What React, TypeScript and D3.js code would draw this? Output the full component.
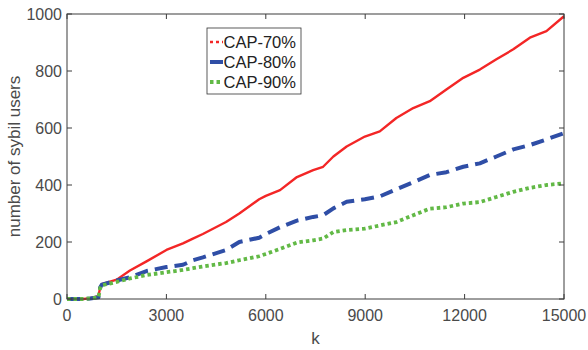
import * as d3 from 'd3'
import React from 'react'

// k values (x) and the three CAP curves
const kValues = [0, 500, 700, 950, 1000, 1050, 1500, 1900, 2400, 3000, 3500, 3800, 4100, 4800, 5200, 5800, 6000, 6430, 6940, 7430, 7730, 8040, 8440, 8990, 9440, 9940, 10450, 10950, 11450, 11960, 12460, 12960, 13470, 13970, 14470, 15000]
const cap70 = [0, 0, 3, 10, 40, 52, 68, 100, 132, 172, 195, 212, 228, 270, 300, 350, 362, 382, 428, 452, 464, 500, 535, 570, 588, 635, 670, 694, 735, 776, 805, 841, 876, 917, 940, 992]
const cap80 = [0, 0, 2, 6, 40, 50, 65, 76, 98, 112, 120, 136, 146, 172, 200, 215, 228, 252, 275, 288, 294, 318, 341, 350, 360, 385, 410, 435, 445, 464, 476, 500, 525, 540, 560, 582]
const cap90 = [0, 0, 2, 6, 38, 48, 60, 72, 84, 94, 102, 108, 114, 126, 136, 150, 158, 176, 198, 206, 212, 235, 242, 247, 258, 270, 294, 317, 322, 335, 340, 358, 376, 390, 400, 406]
const xTicks = [0, 3000, 6000, 9000, 12000, 15000]
const yTicks = [0, 200, 400, 600, 800, 1000]
const seriesNames = ['CAP-70%', 'CAP-80%', 'CAP-90%']

const W = 588
const H = 350
const margin = { left: 67, right: 24, top: 14, bottom: 51 }

export default function App() {
  const x = d3.scaleLinear().domain([0, 15000]).range([margin.left, W - margin.right])
  const y = d3.scaleLinear().domain([0, 1000]).range([H - margin.bottom, margin.top])
  const line = d3.line<[number, number]>().x(d => x(d[0])).y(d => y(d[1]))

  const series = [
    { name: seriesNames[0], values: cap70, color: '#f32626', width: 2.4, dash: '', legendDash: '3 3' },
    { name: seriesNames[1], values: cap80, color: '#2f4ea6', width: 4, dash: '13 7', legendDash: '' },
    { name: seriesNames[2], values: cap90, color: '#62b946', width: 3.8, dash: '3.5 3', legendDash: '3.5 3' },
  ]

  const axisColor = '#3c3c3c'
  const textColor = '#4a4a4a'
  const font = 'Liberation Sans, Arial, sans-serif'
  const [x0, x1] = x.range()
  const [y0, y1] = y.range()

  return (
    <svg width={W} height={H} style={{ position: 'absolute', left: 0, top: 0 }} fontFamily={font}>
      <rect x={0} y={0} width={W} height={H} fill="#fff" />
      {series.map(s => (
        <path
          key={s.name}
          d={line(kValues.map((k, i) => [k, s.values[i]] as [number, number])) || ''}
          fill="none"
          stroke={s.color}
          strokeWidth={s.width}
          strokeDasharray={s.dash}
          strokeLinejoin="round"
        />
      ))}
      {/* box + ticks */}
      <rect x={x0} y={y1} width={x1 - x0} height={y0 - y1} fill="none" stroke={axisColor} strokeWidth={1} />
      {xTicks.map(t => (
        <g key={'x' + t}>
          <line x1={x(t)} x2={x(t)} y1={y0} y2={y0 - 5} stroke={axisColor} />
          <line x1={x(t)} x2={x(t)} y1={y1} y2={y1 + 5} stroke={axisColor} />
          <text x={x(t)} y={y0 + 22} textAnchor="middle" fontSize={16} fill={textColor}>{t}</text>
        </g>
      ))}
      {yTicks.map(t => (
        <g key={'y' + t}>
          <line x1={x0} x2={x0 + 5} y1={y(t)} y2={y(t)} stroke={axisColor} />
          <line x1={x1} x2={x1 - 5} y1={y(t)} y2={y(t)} stroke={axisColor} />
          <text x={x0 - 5} y={y(t) + 6} textAnchor="end" fontSize={16} fill={textColor}>{t}</text>
        </g>
      ))}
      <text x={(x0 + x1) / 2} y={H - 6} textAnchor="middle" fontSize={17} fill={textColor}>k</text>
      <text transform={`translate(20,${(y0 + y1) / 2}) rotate(-90)`} textAnchor="middle" fontSize={17} fill={textColor}>number of sybil users</text>
      {/* legend */}
      <g transform="translate(207,28)">
        <rect x={0} y={0} width={94} height={66} fill="#fff" stroke="#333" strokeWidth={0.8} />
        {series.map((s, i) => (
          <g key={'l' + s.name} transform={`translate(0,${14 + i * 20})`}>
            <line x1={3} x2={16} y1={0} y2={0} stroke={s.color} strokeWidth={s.width} strokeDasharray={s.legendDash} />
            <text x={16.5} y={6} fontSize={16.5} fill="#222">{s.name}</text>
          </g>
        ))}
      </g>
    </svg>
  )
}
